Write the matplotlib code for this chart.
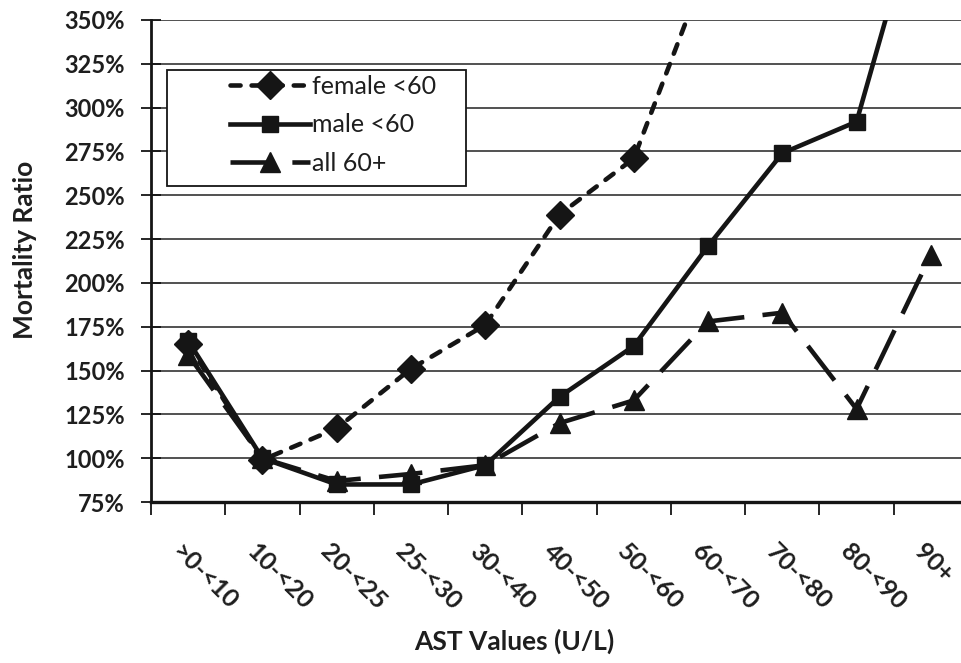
import numpy as np
import matplotlib
matplotlib.use("Agg")
import matplotlib.pyplot as plt
from matplotlib.ticker import FuncFormatter, MultipleLocator
from matplotlib.patches import Rectangle

categories = [">0-<10", "10-<20", "20-<25", "25-<30", "30-<40", "40-<50",
              "50-<60", "60-<70", "70-<80", "80-<90", "90+"]
female_lt60 = [165, 99, 117, 151, 176, 239, 271, 382, np.nan, np.nan, np.nan]
male_lt60 = [167, 100, 85, 85, 96, 135, 164, 221, 274, 292, 441]
all_60plus = [159, 100, 87, 91, 96, 120, 133, 178, 183, 128, 216]

plt.rcParams['font.family'] = ['Lato', 'DejaVu Sans']

W, H = 961, 663
fig = plt.figure(figsize=(W/100, H/100), dpi=100)
ax = fig.add_axes([151/W, 1 - 502/H, 817/W, 482/H])

x = np.arange(len(categories))
col = '#151515'
lw = 3.3

ax.plot(x, female_lt60, color=col, lw=lw, dashes=(2.2, 2.4), dash_capstyle='round',
        marker='D', markersize=14.5, markeredgecolor=col, markerfacecolor=col,
        label='female <60', zorder=3)
ax.plot(x, male_lt60, color=col, lw=lw, marker='s', markersize=12,
        markeredgecolor=col, markerfacecolor=col, label='male <60', zorder=3)
ax.plot(x, all_60plus, color=col, lw=lw, dashes=(9.5, 4.0),
        marker='^', markersize=14, markeredgecolor=col, markerfacecolor=col,
        label='all 60+', zorder=3)

ax.set_xlim(-0.5, len(categories) - 0.5)
ax.set_ylim(75, 350)
ax.yaxis.set_major_locator(MultipleLocator(25))
ax.yaxis.set_major_formatter(FuncFormatter(lambda v, p: f"{v:.0f}%"))
ax.grid(axis='y', color='#333333', lw=1.2)
ax.set_axisbelow(True)

ax.set_xticks(np.arange(len(categories) + 1) - 0.5)
ax.set_xticklabels([])
ax.tick_params(axis='x', direction='out', length=9, width=1.3, color=col)
ax.tick_params(axis='y', direction='inout', length=14, width=1.3, color=col,
               labelsize=17, pad=12)
for lab in ax.get_yticklabels():
    lab.set_fontweight('bold')
    lab.set_color('#1e1e1e')

for i, c in enumerate(categories):
    ax.annotate(c, xy=(i, 0), xycoords=('data', 'axes fraction'),
                xytext=(-4, -38), textcoords='offset pixels',
                rotation=-45, rotation_mode='anchor', ha='left', va='top',
                fontsize=18, fontweight='bold', color='#1e1e1e')

for s in ['top', 'right']:
    ax.spines[s].set_visible(False)
ax.spines['left'].set_linewidth(2)
ax.spines['bottom'].set_linewidth(2.4)
ax.spines['left'].set_color(col)
ax.spines['bottom'].set_color(col)

fig.text(514/W, 1 - 641/H, 'AST Values (U/L)', ha='center', va='center',
         fontsize=19, fontweight='bold', color='#1e1e1e')
fig.text(25/W, 1 - 250/H, 'Mortality Ratio', ha='center', va='center',
         rotation=90, fontsize=19, fontweight='bold', color='#1e1e1e')

# legend box
box = Rectangle((167/W, 1 - 186/H), (466 - 167)/W, (186 - 70)/H,
                transform=fig.transFigure, facecolor='white', edgecolor=col,
                lw=1.3, zorder=4)
ax.add_patch(box)
box.set_clip_on(False)

leg = ax.legend(loc='upper left', bbox_to_anchor=(230/W, 1 - 75/H),
                bbox_transform=fig.transFigure,
                frameon=False, fontsize=18, handlelength=3.2,
                borderpad=0, labelspacing=0.62, handletextpad=0.1,
                borderaxespad=0)
leg.set_zorder(5)
for t in leg.get_texts():
    t.set_color('#1e1e1e')

fig.savefig('out.png', dpi=100)
